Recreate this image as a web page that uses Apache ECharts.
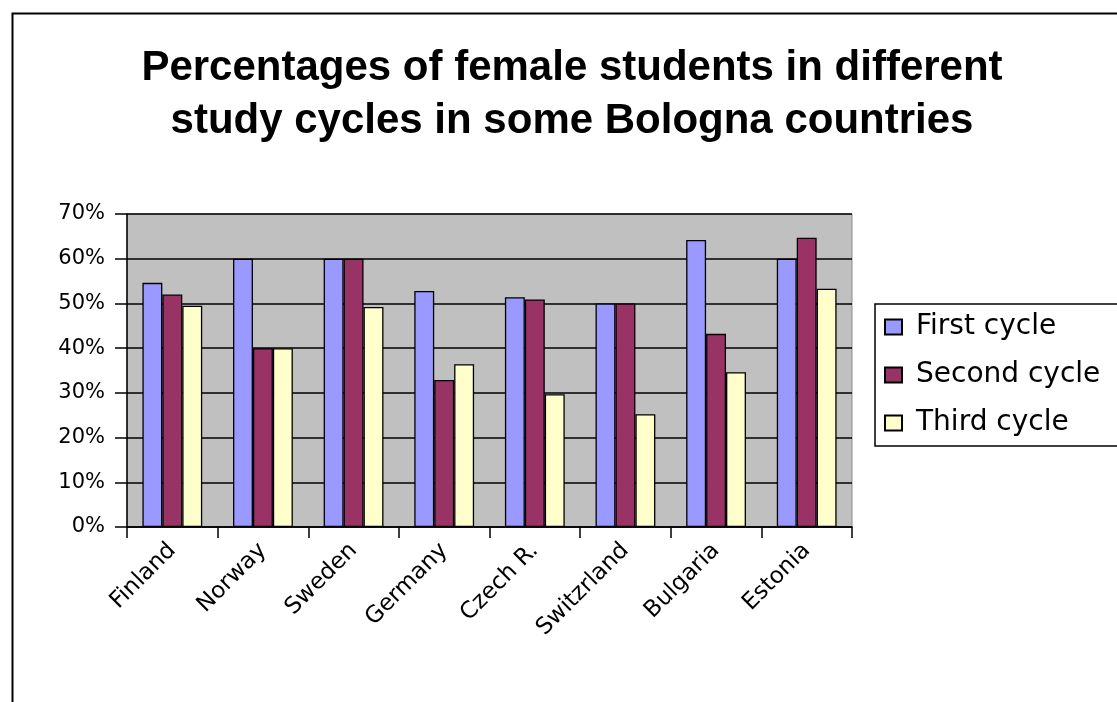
<!DOCTYPE html>
<html>
<head>
<meta charset="utf-8">
<style>
html,body{margin:0;padding:0;background:#fff;}
#chart{width:1117px;height:702px;}
</style>
<script src="https://cdn.jsdelivr.net/npm/echarts@6/dist/echarts.min.js"></script>
</head>
<body>
<div id="chart"></div>
<script>
const categories = ['Finland','Norway','Sweden','Germany','Czech R.','Switzrland','Bulgaria','Estonia'];
const firstCycle  = [0.546, 0.60, 0.60, 0.528, 0.514, 0.50, 0.642, 0.60];
const secondCycle = [0.520, 0.40, 0.60, 0.329, 0.509, 0.50, 0.432, 0.647];
const thirdCycle  = [0.495, 0.40, 0.492, 0.364, 0.297, 0.252, 0.346, 0.533];
const yTicks = [0, 0.1, 0.2, 0.3, 0.4, 0.5, 0.6, 0.7];
const seriesNames = ['First cycle','Second cycle','Third cycle'];
const colors = ['#9999FF','#993366','#FFFFCC'];

const chart = echarts.init(document.getElementById('chart'));
const font = 'Liberation Sans, Arial, sans-serif';
const lblFont = 'DejaVu Sans, sans-serif';
function bar(name, data, color){
  return {
    name, type:'bar', data, barGap:'0%', barCategoryGap:'34%',
    itemStyle:{color, borderColor:'#000', borderWidth:1.3},
    emphasis:{disabled:true}
  };
}
chart.setOption({
  animation:false,
  backgroundColor:'#fff',
  title:{
    text:'Percentages of female students in different\nstudy cycles in some Bologna countries',
    left:567, top:37, textAlign:'center',
    textStyle:{fontFamily:font, fontWeight:'bold', fontSize:42, lineHeight:53, color:'#000'}
  },
  graphic:[{
    type:'rect', left:10, top:11, z:-1, silent:true,
    shape:{width:1150, height:720},
    style:{fill:'none', stroke:'#000', lineWidth:2}
  }],
  legend:{
    orient:'vertical', left:875, top:304,
    padding:[9,30,9,9], itemGap:20, itemWidth:17, itemHeight:15,
    borderColor:'#000', borderWidth:1.5, backgroundColor:'#fff',
    icon:'rect',
    textStyle:{fontFamily:lblFont, fontSize:28, color:'#000', padding:[0,0,0,9]},
    data:seriesNames
  },
  grid:{left:127, right:265, top:214, bottom:175, show:true, backgroundColor:'#C0C0C0', borderColor:'#8a8a8a', borderWidth:1},
  xAxis:{
    type:'category', data:categories,
    axisLine:{lineStyle:{color:'#000', width:1.5}},
    axisTick:{show:true, length:11, lineStyle:{color:'#000', width:1.5}},
    axisLabel:{rotate:45, margin:20, color:'#000', fontFamily:lblFont, fontSize:23}
  },
  yAxis:{
    type:'value', min:0, max:0.7, interval:0.1,
    axisLine:{show:true, lineStyle:{color:'#000', width:1.5}},
    axisTick:{show:true, length:12, lineStyle:{color:'#000', width:1.5}},
    splitLine:{lineStyle:{color:'#000', width:1.5}},
    axisLabel:{margin:22, color:'#000', fontFamily:lblFont, fontSize:21,
      formatter:v=>Math.round(v*100)+'%'}
  },
  series:[bar(seriesNames[0], firstCycle, colors[0]), bar(seriesNames[1], secondCycle, colors[1]), bar(seriesNames[2], thirdCycle, colors[2])]
});
</script>
</body>
</html>
